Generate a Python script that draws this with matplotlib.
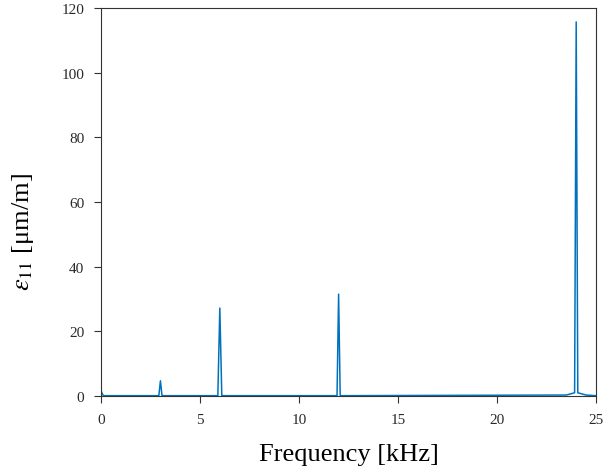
import matplotlib
matplotlib.use("Agg")
import matplotlib.pyplot as plt

plt.rcParams['font.family'] = ['Liberation Serif', 'DejaVu Serif']
plt.rcParams['mathtext.fontset'] = 'stix'

freq_khz = [0, 0.04, 0.12, 2.92, 3.0, 3.08, 5.9, 6.0, 6.1, 11.92, 12.0, 12.08,
            23.5, 23.92, 24.0, 24.08, 24.5, 25]
strain = [1.8, 1.0, 0.1, 0.1, 4.7, 0.1, 0.1, 27.2, 0.1, 0.1, 31.5, 0.1,
          0.3, 1.0, 115.7, 1.0, 0.3, 0.1]

x_ticks = [0, 5, 10, 15, 20, 25]
y_ticks = [0, 20, 40, 60, 80, 100, 120]

fig = plt.figure(figsize=(6.06, 4.77), dpi=100)
ax = fig.add_axes([0.1667, 0.1677, 0.9835 - 0.1667, 0.9811 - 0.1677])
ax.plot(freq_khz, strain, color='#0072BD', lw=1.1)
ax.set_xlim(0, 25)
ax.set_ylim(0, 120)
ax.set_xticks(x_ticks)
ax.set_yticks(y_ticks)
ax.tick_params(labelsize=11, colors='#333333', labelcolor='#2a2a2a', length=5, width=0.8, pad=7)
for s in ax.spines.values():
    s.set_color('#333333')
    s.set_linewidth(0.8)
ax.set_xlabel('Frequency [kHz]', fontsize=19)
ax.xaxis.set_label_coords(0.5, -0.122)
ax.set_ylabel(r'$\varepsilon_{11}$ [μm/m]', fontsize=19)
ax.yaxis.set_label_coords(-0.131, 0.425)
fig.savefig('out.png', dpi=100)
